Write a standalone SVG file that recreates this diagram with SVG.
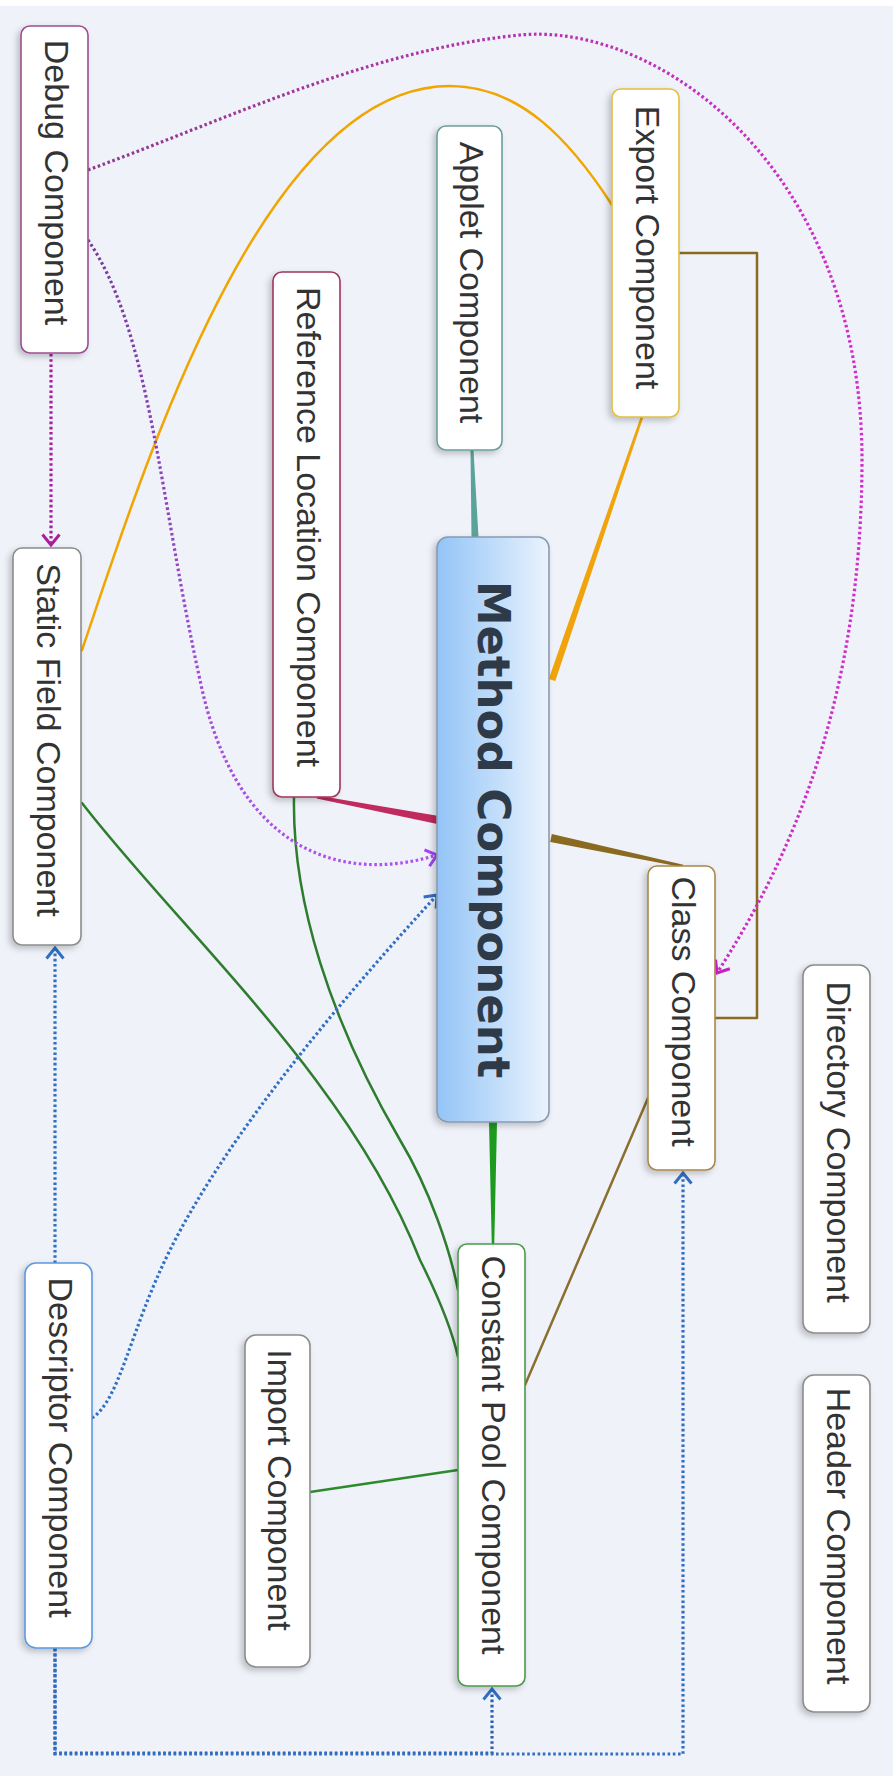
<svg xmlns="http://www.w3.org/2000/svg" width="893" height="1781" viewBox="0 0 893 1781">
<defs>
<style>
.node rect{fill:#ffffff;stroke-width:1.6}
.lbl{font-family:"Liberation Sans",Arial,sans-serif;font-size:34px;fill:#333333;text-anchor:middle}
.main{font-family:"DejaVu Sans",Verdana,sans-serif;font-weight:bold;font-size:45px;fill:#2f3a48;text-anchor:middle}
.ln{fill:none;stroke-width:2.5;stroke-linecap:round;stroke-linejoin:round}
.dot{fill:none;stroke-width:3.2;stroke-dasharray:2.6 2.6}
</style>
<filter id="sh" x="-30%" y="-10%" width="160%" height="120%">
<feDropShadow dx="-3" dy="3" stdDeviation="3" flood-color="#000" flood-opacity="0.22"/>
</filter>
<linearGradient id="mg" x1="0" y1="0" x2="1" y2="0">
<stop offset="0" stop-color="#93c4f7"/>
<stop offset="1" stop-color="#eaf3fd"/>
</linearGradient>
<linearGradient id="pinkg" gradientUnits="userSpaceOnUse" x1="88" y1="0" x2="860" y2="0">
<stop offset="0" stop-color="#8e3a8c"/>
<stop offset="1" stop-color="#d22ccc"/>
</linearGradient>
<linearGradient id="violg" gradientUnits="userSpaceOnUse" x1="0" y1="240" x2="0" y2="860">
<stop offset="0" stop-color="#7a3a9a"/>
<stop offset="1" stop-color="#b050f0"/>
</linearGradient>
<marker id="amag" markerUnits="userSpaceOnUse" viewBox="0 0 14 20" refX="12" refY="10" markerWidth="14" markerHeight="20" orient="auto">
<path d="M1.5,1.5 L12,10 L1.5,18.5" fill="none" stroke="#a8209e" stroke-width="3"/>
</marker>
<marker id="apink" markerUnits="userSpaceOnUse" viewBox="0 0 14 20" refX="12" refY="10" markerWidth="14" markerHeight="20" orient="auto">
<path d="M1.5,1.5 L12,10 L1.5,18.5" fill="none" stroke="#c81ec4" stroke-width="3"/>
</marker>
<marker id="aviol" markerUnits="userSpaceOnUse" viewBox="0 0 14 20" refX="12" refY="10" markerWidth="14" markerHeight="20" orient="auto">
<path d="M1.5,1.5 L12,10 L1.5,18.5" fill="none" stroke="#a445f5" stroke-width="3"/>
</marker>
<marker id="ablue" markerUnits="userSpaceOnUse" viewBox="0 0 14 20" refX="12" refY="10" markerWidth="14" markerHeight="20" orient="auto">
<path d="M1.5,1.5 L12,10 L1.5,18.5" fill="none" stroke="#2f6fc4" stroke-width="3"/>
</marker>
</defs>
<rect x="0" y="0" width="893" height="1781" fill="#ffffff"/>
<rect x="0" y="6" width="893" height="1770" fill="#eff2f9"/>

<g id="connectors">
<path d="M470.5,450 L473.5,450 L478.5,537 L471.5,537 Z" fill="#5aa39a"/>
<path d="M643.2,417.4 L555.3,681.1 L548.7,678.9 L640.8,416.6 Z" fill="#f0a30a"/>
<path d="M317.3,795.5 L438.75,816.1 L437.25,823.9 L316.7,798.5 Z" fill="#c02a5c"/>
<path d="M683.26,864.78 L551.83,834.09 L550.17,841.91 L682.74,867.22 Z" fill="#8a6a20"/>
<path d="M491.75,1244 L494.25,1244 L497,1122 L489,1122 Z" fill="#1e9a1e"/>
<path class="ln" d="M679,253 H757 V1018 H715" stroke="#8a6a20"/>
<path class="ln" d="M648,1098 L525,1385" stroke="#8a7030" stroke-width="2"/>
<path class="ln" d="M310,1492 L458,1470" stroke="#2e8a2e"/>
<path class="ln" d="M294,797 C292,900 330,1020 400,1140 C430,1190 450,1250 458,1290" stroke="#2e7d2e"/>
<path class="ln" d="M82,803 C180,930 350,1080 420,1260 C440,1300 452,1330 458,1357" stroke="#2e7d2e"/>
<path class="ln" d="M82,650 C140,480 260,86 450,86 C520,86 570,140 612,205" stroke="#f0a500"/>
<path class="dot" d="M51,354 V545" stroke="#a8209e" marker-end="url(#amag)"/>
<path class="dot" d="M88,170 C230,118 370,50 520,35 C660,22 862,170 862,460 C862,700 790,860 717,973" stroke="url(#pinkg)" marker-end="url(#apink)"/>
<path class="dot" d="M88,240 C150,330 160,500 200,680 C235,850 340,885 437,855" stroke="url(#violg)" marker-end="url(#aviol)"/>
<path class="dot" d="M55,1263 V948" stroke="#2f6fc4" marker-end="url(#ablue)"/>
<path class="dot" d="M92,1418 C120,1400 130,1330 170,1250 C230,1130 350,990 437,895" stroke="#2f6fc4" marker-end="url(#ablue)"/>
<path class="dot" d="M55,1648 V1753 H492 V1689" stroke="#2d5fb0" marker-end="url(#ablue)"/>
<path class="dot" d="M55,1649 V1754 H683 V1173" stroke="#2f6fc4" marker-end="url(#ablue)"/>
</g>

<g id="debug" class="node"><rect x="21" y="26" width="67" height="327" rx="9" stroke="#9c4f8f" filter="url(#sh)"/><text class="lbl" transform="translate(44.5,182.5) rotate(90)">Debug Component</text></g>
<g id="static-field" class="node"><rect x="13" y="548" width="68" height="397" rx="9" stroke="#8c8c8c" filter="url(#sh)"/><text class="lbl" transform="translate(37,740) rotate(90)">Static Field Component</text></g>
<g id="reference-location" class="node"><rect x="273" y="272" width="67" height="525" rx="9" stroke="#a0345e" filter="url(#sh)"/><text class="lbl" transform="translate(296.5,527) rotate(90)">Reference Location Component</text></g>
<g id="applet" class="node"><rect x="437" y="126" width="65" height="324" rx="9" stroke="#6a9e9a" filter="url(#sh)"/><text class="lbl" transform="translate(459.5,282.5) rotate(90)">Applet Component</text></g>
<g id="export" class="node"><rect x="612" y="89" width="67" height="328" rx="9" stroke="#e0c040" filter="url(#sh)"/><text class="lbl" transform="translate(635.5,247.5) rotate(90)">Export Component</text></g>
<g id="method" class="node"><rect x="437" y="537" width="112" height="585" rx="11" style="fill:url(#mg)" stroke="#8a9aae" filter="url(#sh)"/><text class="main" transform="translate(478,829.5) rotate(90)">Method Component</text></g>
<g id="class" class="node"><rect x="648" y="866" width="67" height="304" rx="9" stroke="#a8884a" filter="url(#sh)"/><text class="lbl" transform="translate(671.5,1011.5) rotate(90)">Class Component</text></g>
<g id="directory" class="node"><rect x="803" y="965" width="67" height="368" rx="11" stroke="#8c8c8c" filter="url(#sh)"/><text class="lbl" transform="translate(826.5,1142) rotate(90)">Directory Component</text></g>
<g id="header" class="node"><rect x="803" y="1375" width="67" height="337" rx="11" stroke="#8c8c8c" filter="url(#sh)"/><text class="lbl" transform="translate(826.5,1536) rotate(90)">Header Component</text></g>
<g id="constant-pool" class="node"><rect x="458" y="1244" width="67" height="442" rx="9" stroke="#4a9a4a" filter="url(#sh)"/><text class="lbl" transform="translate(481.5,1455) rotate(90)">Constant Pool Component</text></g>
<g id="import" class="node"><rect x="245" y="1335" width="65" height="332" rx="11" stroke="#8c8c8c" filter="url(#sh)"/><text class="lbl" transform="translate(267.5,1490) rotate(90)">Import Component</text></g>
<g id="descriptor" class="node"><rect x="25" y="1263" width="67" height="385" rx="11" stroke="#5a9ae0" filter="url(#sh)"/><text class="lbl" transform="translate(48.5,1447.5) rotate(90)">Descriptor Component</text></g>
</svg>
